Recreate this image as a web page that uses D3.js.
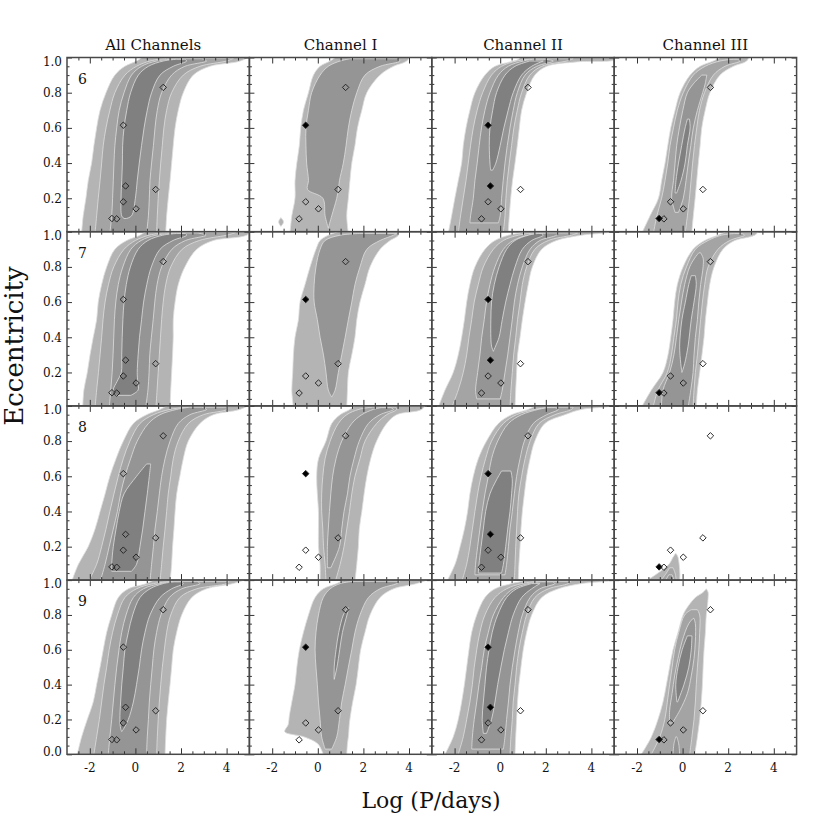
<!DOCTYPE html>
<html><head><meta charset="utf-8">
<script src="https://cdn.jsdelivr.net/npm/d3@7"></script>
<style>body{margin:0;background:#fff}text{font-family:"DejaVu Serif",serif;fill:#111}</style>
</head><body><svg id="c" width="830" height="830"></svg>
<script>
const columns = ["All Channels","Channel I","Channel II","Channel III"];
const rowLabels = ["6","7","8","9"];
const xTickLabels = [-2,0,2,4];
const yTickLabelsTop = [0.2,0.4,0.6,0.8,1.0];
const yTickLabelsBottom = [0.0,0.2,0.4,0.6,0.8,1.0];
const levelColors = ["#b4b4b4","#a4a4a4","#959595","#808080"];

// planets: log period, eccentricity
const planetLogP = [1.22,-0.53,-0.43,-0.53,0.03,0.89,-1.03,-0.82];
const planetEcc  = [0.83,0.615,0.27,0.18,0.14,0.25,0.085,0.083];
// 0 = not shown, 1 = open diamond, 2 = filled diamond
const markAll   = [1,1,1,1,1,1,1,1];
const markChI   = [1,2,0,1,1,1,0,1];
const markChII  = [1,2,2,1,1,1,0,1];
const markChIII = [1,0,0,1,1,1,2,1];

// contour regions: [level, rows of [eccentricity, left logP, right logP]]
const r6_all = [
 [1,[[0.0,-2.36,1.33],[0.1,-2.29,1.37],[0.2,-2.17,1.44],[0.3,-2.07,1.52],[0.4,-1.92,1.59],[0.5,-1.82,1.66],[0.6,-1.7,1.74],[0.7,-1.55,1.88],[0.8,-1.29,2.1],[0.9,-0.9,2.54],[0.95,-0.46,3.27],[0.98,0.05,4.6],[1.02,0.5,5.2]]],
 [2,[[0.0,-1.77,0.93],[0.1,-1.7,0.96],[0.2,-1.63,1.0],[0.3,-1.55,1.05],[0.4,-1.48,1.11],[0.5,-1.41,1.18],[0.6,-1.29,1.25],[0.7,-1.12,1.37],[0.8,-0.9,1.59],[0.9,-0.46,2.1],[0.95,0.05,2.83],[0.98,0.64,4.0],[0.995,1.37,4.3]]],
 [3,[[0.0,-1.12,0.49],[0.1,-1.04,0.57],[0.2,-1.0,0.61],[0.3,-0.97,0.64],[0.4,-0.94,0.71],[0.5,-0.9,0.79],[0.6,-0.82,0.86],[0.7,-0.71,0.96],[0.8,-0.5,1.15],[0.9,-0.17,1.59],[0.95,0.27,2.17],[0.98,0.93,3.12],[0.993,1.9,2.9]]],
 [4,[[0.085,-0.5,-0.4],[0.1,-0.6,-0.17],[0.2,-0.63,0.0],[0.3,-0.6,0.08],[0.4,-0.57,0.17],[0.5,-0.56,0.27],[0.6,-0.5,0.38],[0.7,-0.38,0.52],[0.8,-0.21,0.71],[0.9,0.13,1.08],[0.95,0.57,1.66],[0.98,1.22,2.25],[0.99,1.81,2.17]]]
];
const r6_c1 = [
 [1,[[0.0,-1.22,1.34],[0.1,-1.14,1.27],[0.2,-1.0,1.34],[0.3,-1.0,1.41],[0.4,-0.92,1.49],[0.5,-0.81,1.63],[0.6,-0.75,1.74],[0.7,-0.63,1.93],[0.8,-0.41,2.15],[0.9,-0.19,2.73],[0.95,0.1,3.32],[0.98,0.54,3.9],[1.02,0.98,4.1]]],
 [1,[[0.04,-1.62,-1.62],[0.065,-1.72,-1.5],[0.09,-1.62,-1.62]]],
 [3,[[0.03,0.46,0.46],[0.1,0.32,0.61],[0.2,0.22,0.83],[0.25,-0.45,0.9],[0.3,-0.41,0.95],[0.4,-0.49,1.12],[0.5,-0.52,1.24],[0.6,-0.52,1.34],[0.7,-0.41,1.49],[0.8,-0.27,1.71],[0.9,0.1,2.07],[0.95,0.46,2.73],[0.98,0.98,3.61],[0.993,1.41,3.5]]]
];
const r6_c2 = [
 [1,[[0.0,-2.28,0.35],[0.1,-2.13,0.4],[0.2,-1.99,0.46],[0.3,-1.84,0.54],[0.4,-1.69,0.65],[0.5,-1.62,0.75],[0.6,-1.5,0.84],[0.7,-1.33,0.94],[0.8,-1.11,1.16],[0.9,-0.67,1.52],[0.95,-0.23,2.04],[0.975,0.43,3.35],[0.99,0.8,5.1],[1.02,1.0,5.2]]],
 [2,[[0.0,-1.84,0.13],[0.1,-1.74,0.21],[0.2,-1.62,0.25],[0.3,-1.5,0.31],[0.4,-1.4,0.4],[0.5,-1.3,0.5],[0.6,-1.18,0.6],[0.7,-1.01,0.75],[0.8,-0.77,0.94],[0.9,-0.38,1.3],[0.95,0.06,1.82],[0.98,0.72,2.91],[0.993,1.45,3.2]]],
 [3,[[0.06,-1.33,-0.08],[0.1,-1.3,0.0],[0.2,-1.18,0.06],[0.3,-1.11,0.13],[0.4,-1.01,0.21],[0.5,-0.92,0.31],[0.6,-0.82,0.43],[0.7,-0.67,0.57],[0.8,-0.45,0.75],[0.9,-0.08,1.09],[0.95,0.35,1.6],[0.98,1.01,2.33],[0.99,1.45,2.0]]],
 [4,[[0.36,-0.42,-0.33],[0.4,-0.45,-0.19],[0.5,-0.48,0.0],[0.6,-0.45,0.16],[0.7,-0.33,0.35],[0.8,-0.16,0.57],[0.9,0.21,0.94],[0.95,0.65,1.38],[0.98,1.3,1.89]]]
];
const r6_c3 = [
 [1,[[0.0,-1.79,0.4],[0.1,-1.43,0.47],[0.2,-1.06,0.55],[0.3,-0.92,0.62],[0.4,-0.77,0.69],[0.5,-0.65,0.77],[0.6,-0.52,0.84],[0.7,-0.33,0.99],[0.8,-0.11,1.2],[0.9,0.33,1.64],[0.95,0.77,2.23],[0.98,1.35,2.81],[1.02,1.94,2.96]]],
 [2,[[0.0,-1.28,0.11],[0.1,-1.13,0.21],[0.2,-0.92,0.3],[0.3,-0.77,0.37],[0.4,-0.65,0.44],[0.5,-0.55,0.52],[0.6,-0.4,0.62],[0.7,-0.23,0.74],[0.8,0.03,0.96],[0.9,0.47,1.35],[0.95,0.99,1.86],[0.98,1.64,2.52],[0.99,2.23,2.4]]],
 [3,[[0.12,-0.33,-0.18],[0.2,-0.48,0.03],[0.3,-0.4,0.15],[0.4,-0.33,0.25],[0.5,-0.26,0.36],[0.6,-0.14,0.47],[0.7,0.01,0.65],[0.8,0.21,0.88],[0.85,0.47,0.99],[0.9,0.84,1.06]]],
 [4,[[0.23,-0.33,-0.26],[0.3,-0.29,-0.07],[0.4,-0.18,0.11],[0.5,-0.04,0.21],[0.6,0.11,0.33],[0.65,0.21,0.3]]]
];
const r7_all = [
 [1,[[0.0,-2.31,1.52],[0.1,-2.26,1.55],[0.2,-2.11,1.59],[0.3,-1.99,1.63],[0.4,-1.85,1.66],[0.5,-1.7,1.66],[0.6,-1.63,1.74],[0.7,-1.48,1.88],[0.8,-1.26,2.17],[0.9,-0.9,2.69],[0.95,-0.38,3.42],[0.98,0.2,4.88],[1.02,0.64,5.2]]],
 [2,[[0.0,-1.77,0.9],[0.1,-1.7,0.95],[0.2,-1.62,1.0],[0.3,-1.55,1.05],[0.4,-1.48,1.1],[0.5,-1.42,1.15],[0.6,-1.33,1.22],[0.7,-1.18,1.33],[0.8,-0.95,1.55],[0.9,-0.5,2.05],[0.95,0.0,2.8],[0.98,0.6,4.0],[0.995,1.3,4.4]]],
 [3,[[0.0,-1.15,0.45],[0.1,-1.08,0.55],[0.2,-1.02,0.6],[0.3,-0.98,0.63],[0.4,-0.95,0.7],[0.5,-0.92,0.78],[0.6,-0.86,0.85],[0.7,-0.75,0.95],[0.8,-0.55,1.15],[0.9,-0.2,1.6],[0.95,0.25,2.2],[0.98,0.9,3.1],[0.993,1.9,2.7]]],
 [4,[[0.07,-0.85,-0.2],[0.1,-0.97,0.12],[0.15,-0.8,0.1],[0.2,-0.62,0.08],[0.3,-0.6,0.12],[0.4,-0.58,0.18],[0.5,-0.55,0.27],[0.6,-0.5,0.36],[0.7,-0.4,0.5],[0.8,-0.22,0.7],[0.9,0.12,1.08],[0.95,0.55,1.65],[0.98,1.2,2.25],[0.99,1.8,2.2]]]
];
const r7_c1 = [
 [1,[[0.0,-1.07,1.27],[0.1,-1.14,1.3],[0.2,-1.1,1.34],[0.3,-1.07,1.49],[0.4,-1.0,1.63],[0.5,-0.85,1.71],[0.6,-0.78,1.85],[0.7,-0.56,2.07],[0.8,-0.34,2.29],[0.9,-0.08,2.73],[0.95,0.1,3.17],[0.98,0.46,3.53],[1.02,1.41,3.46]]],
 [3,[[0.06,0.61,0.61],[0.1,0.46,0.76],[0.2,0.36,0.9],[0.3,0.25,1.05],[0.4,0.1,1.2],[0.5,-0.02,1.34],[0.6,-0.16,1.49],[0.7,-0.16,1.63],[0.8,-0.08,1.85],[0.9,0.1,2.15],[0.95,0.32,2.73],[0.98,0.98,3.32],[0.99,1.85,3.46]]]
];
const r7_c2 = [
 [1,[[0.0,-2.72,0.65],[0.1,-2.42,0.68],[0.2,-2.06,0.72],[0.3,-1.84,0.76],[0.4,-1.69,0.87],[0.5,-1.57,0.97],[0.6,-1.47,1.09],[0.7,-1.33,1.23],[0.8,-1.11,1.41],[0.9,-0.67,1.82],[0.95,-0.23,2.47],[0.98,0.36,3.57],[1.0,1.09,4.89],[1.02,1.3,5.2]]],
 [2,[[0.0,-2.13,0.43],[0.1,-1.84,0.47],[0.2,-1.62,0.53],[0.3,-1.47,0.59],[0.4,-1.37,0.68],[0.5,-1.25,0.76],[0.6,-1.14,0.87],[0.7,-0.96,0.97],[0.8,-0.74,1.16],[0.9,-0.3,1.52],[0.95,0.14,2.11],[0.98,0.79,3.13],[0.993,1.52,3.4]]],
 [3,[[0.05,-1.03,0.0],[0.1,-1.08,0.09],[0.2,-0.99,0.21],[0.3,-0.89,0.33],[0.4,-0.81,0.43],[0.5,-0.7,0.53],[0.6,-0.6,0.62],[0.7,-0.45,0.76],[0.8,-0.23,0.97],[0.9,0.14,1.31],[0.95,0.57,1.74],[0.98,1.23,2.47],[0.993,2.11,2.55]]],
 [4,[[0.32,-0.3,-0.3],[0.35,-0.38,-0.2],[0.4,-0.41,-0.05],[0.5,-0.41,0.09],[0.6,-0.38,0.24],[0.7,-0.26,0.43],[0.8,-0.05,0.65],[0.9,0.28,0.97],[0.95,0.65,1.38],[0.98,1.23,1.89],[0.99,1.67,1.8]]]
];
const r7_c3 = [
 [1,[[0.0,-1.81,0.6],[0.1,-1.37,0.65],[0.2,-0.86,0.75],[0.3,-0.64,0.85],[0.4,-0.52,0.94],[0.5,-0.42,1.0],[0.6,-0.35,1.09],[0.7,-0.23,1.19],[0.8,0.02,1.38],[0.9,0.46,1.77],[0.95,0.97,2.29],[0.98,1.55,3.16],[1.02,2.29,3.46]]],
 [2,[[0.0,-1.3,0.46],[0.1,-1.08,0.5],[0.2,-0.67,0.56],[0.3,-0.49,0.65],[0.4,-0.38,0.72],[0.5,-0.27,0.79],[0.6,-0.2,0.87],[0.7,-0.08,0.97],[0.8,0.17,1.12],[0.9,0.56,1.55],[0.95,1.12,2.07],[0.98,1.7,2.72],[0.99,2.29,2.6]]],
 [3,[[0.0,-0.93,0.24],[0.1,-0.86,0.36],[0.2,-0.57,0.46],[0.3,-0.38,0.5],[0.4,-0.27,0.56],[0.5,-0.17,0.65],[0.6,-0.05,0.71],[0.7,0.09,0.79],[0.8,0.31,0.9],[0.85,0.53,0.9],[0.88,0.71,0.79]]],
 [4,[[0.2,-0.03,-0.03],[0.25,-0.08,0.09],[0.35,-0.13,0.24],[0.5,-0.03,0.38],[0.6,0.12,0.5],[0.7,0.27,0.6],[0.75,0.38,0.56]]]
];
const r8_all = [
 [1,[[0.0,-2.8,1.52],[0.1,-2.5,1.59],[0.2,-2.07,1.63],[0.3,-1.77,1.69],[0.4,-1.55,1.74],[0.5,-1.33,1.81],[0.6,-1.12,1.95],[0.7,-0.85,2.1],[0.8,-0.53,2.32],[0.9,-0.09,2.83],[0.95,0.49,3.42],[0.98,1.08,4.59],[1.02,1.66,5.2]]],
 [2,[[0.0,-2.07,1.08],[0.1,-1.7,1.15],[0.2,-1.48,1.22],[0.3,-1.29,1.3],[0.4,-1.12,1.37],[0.5,-0.94,1.44],[0.6,-0.75,1.55],[0.7,-0.53,1.66],[0.8,-0.24,1.88],[0.9,0.2,2.32],[0.95,0.79,2.98],[0.98,1.52,4.0],[0.993,2.25,4.0]]],
 [3,[[0.0,-1.55,0.64],[0.1,-1.33,0.71],[0.2,-1.15,0.79],[0.3,-0.97,0.86],[0.4,-0.79,0.96],[0.5,-0.65,1.05],[0.6,-0.46,1.15],[0.7,-0.21,1.3],[0.8,0.08,1.52],[0.9,0.57,1.88],[0.95,1.08,2.39],[0.98,1.81,3.12],[0.993,2.39,2.9]]],
 [4,[[0.06,-1.04,-0.17],[0.1,-1.04,0.05],[0.2,-0.97,0.2],[0.3,-0.85,0.32],[0.4,-0.71,0.42],[0.5,-0.5,0.52],[0.6,0.05,0.61],[0.67,0.49,0.67]]]
];
const r8_c1 = [
 [1,[[0.0,0.1,1.63],[0.1,0.1,1.71],[0.2,0.03,1.78],[0.3,0.03,1.82],[0.4,0.03,1.93],[0.5,-0.02,2.03],[0.6,-0.05,2.15],[0.7,0.03,2.32],[0.8,0.36,2.58],[0.9,0.61,3.02],[0.95,0.98,3.46],[0.98,1.41,4.56],[1.02,1.8,4.78]]],
 [2,[[0.0,0.36,0.76],[0.1,0.32,0.98],[0.2,0.25,1.15],[0.3,0.22,1.27],[0.4,0.17,1.39],[0.5,0.17,1.49],[0.6,0.22,1.63],[0.7,0.32,1.85],[0.8,0.54,2.07],[0.9,0.9,2.58],[0.95,1.27,3.02],[0.98,1.8,3.46],[0.993,2.4,3.4]]],
 [3,[[0.08,0.42,0.57],[0.2,0.42,0.95],[0.3,0.46,1.05],[0.4,0.51,1.15],[0.5,0.57,1.3],[0.6,0.65,1.41],[0.7,0.8,1.59],[0.8,1.05,1.82],[0.9,1.49,2.22],[0.95,1.93,2.73],[0.98,2.44,3.32],[0.99,2.8,3.2]]]
];
const r8_c2 = [
 [1,[[0.0,-2.35,0.79],[0.1,-1.98,0.82],[0.2,-1.76,0.87],[0.3,-1.57,0.91],[0.4,-1.43,0.97],[0.5,-1.33,1.06],[0.6,-1.18,1.16],[0.7,-0.96,1.31],[0.8,-0.6,1.52],[0.9,-0.08,1.96],[0.95,0.5,2.84],[0.98,1.23,3.57],[1.0,1.52,4.89],[1.02,1.6,5.2]]],
 [2,[[0.0,-1.69,0.62],[0.1,-1.47,0.65],[0.2,-1.33,0.68],[0.3,-1.22,0.72],[0.4,-1.11,0.76],[0.5,-0.99,0.82],[0.6,-0.84,0.94],[0.7,-0.64,1.09],[0.8,-0.38,1.31],[0.9,0.14,1.7],[0.95,0.72,2.4],[0.98,1.52,3.13],[0.993,2.26,3.2]]],
 [3,[[0.04,-1.11,0.21],[0.1,-1.08,0.28],[0.2,-0.99,0.36],[0.3,-0.89,0.43],[0.4,-0.79,0.53],[0.5,-0.67,0.62],[0.6,-0.52,0.72],[0.7,-0.38,0.87],[0.8,-0.11,1.06],[0.9,0.36,1.45],[0.95,0.94,2.04],[0.98,1.67,2.55],[0.99,2.1,2.4]]],
 [4,[[0.05,-0.96,0.06],[0.1,-0.93,0.14],[0.2,-0.84,0.24],[0.3,-0.74,0.33],[0.4,-0.64,0.43],[0.5,-0.45,0.5],[0.58,-0.16,0.53],[0.63,0.06,0.47]]]
];
const r8_c3 = [
 [1,[[0.0,-1.66,-0.13],[0.05,-1.08,-0.12],[0.1,-0.6,-0.15],[0.14,-0.42,-0.2],[0.16,-0.32,-0.28]]],
 [2,[[0.0,-1.0,-0.27],[0.05,-0.71,-0.33],[0.08,-0.57,-0.42]]],
 [3,[[0.0,-0.78,-0.35],[0.04,-0.61,-0.46]]]
];
const r9_all = [
 [1,[[0.0,-2.55,1.3],[0.1,-2.36,1.33],[0.2,-2.11,1.37],[0.3,-1.85,1.44],[0.4,-1.7,1.52],[0.5,-1.55,1.59],[0.6,-1.41,1.66],[0.7,-1.26,1.81],[0.8,-1.04,2.03],[0.9,-0.75,2.47],[0.95,-0.31,3.12],[0.98,0.49,4.29],[1.02,1.08,5.2]]],
 [2,[[0.0,-1.82,0.93],[0.1,-1.7,0.96],[0.2,-1.58,1.0],[0.3,-1.48,1.05],[0.4,-1.38,1.11],[0.5,-1.26,1.18],[0.6,-1.15,1.27],[0.7,-1.0,1.37],[0.8,-0.79,1.55],[0.9,-0.46,1.95],[0.95,0.05,2.69],[0.98,0.79,4.0],[0.993,1.66,4.1]]],
 [3,[[0.0,-1.19,0.49],[0.1,-1.12,0.52],[0.2,-1.04,0.57],[0.3,-0.97,0.61],[0.4,-0.9,0.67],[0.5,-0.82,0.74],[0.6,-0.72,0.81],[0.7,-0.6,0.93],[0.8,-0.41,1.12],[0.9,-0.09,1.49],[0.95,0.35,2.03],[0.98,1.08,2.83],[0.993,1.66,2.7]]],
 [4,[[0.13,-0.6,-0.6],[0.15,-0.65,-0.5],[0.2,-0.68,-0.31],[0.3,-0.65,-0.09],[0.4,-0.6,0.05],[0.5,-0.53,0.17],[0.6,-0.46,0.27],[0.7,-0.31,0.42],[0.8,-0.12,0.64],[0.9,0.2,1.08],[0.95,0.64,1.59],[0.98,1.22,2.1],[0.99,1.7,2.0]]]
];
const r9_c1 = [
 [1,[[0.0,0.24,1.27],[0.06,0.0,1.3],[0.1,-0.6,1.34],[0.13,-1.45,1.36],[0.17,-1.3,1.38],[0.22,-1.25,1.43],[0.3,-1.14,1.53],[0.4,-1.0,1.68],[0.5,-0.92,1.78],[0.6,-0.81,1.88],[0.7,-0.63,2.07],[0.8,-0.41,2.29],[0.9,-0.12,2.73],[0.95,0.24,3.32],[0.98,0.83,4.34],[1.02,1.41,5.2]]],
 [3,[[0.03,0.32,0.61],[0.1,0.17,0.83],[0.2,0.1,0.95],[0.3,0.03,1.05],[0.4,-0.02,1.2],[0.5,-0.08,1.34],[0.6,-0.12,1.49],[0.7,-0.08,1.63],[0.8,0.03,1.85],[0.9,0.24,2.22],[0.95,0.54,2.73],[0.98,0.98,3.46],[0.993,1.56,3.6]]],
 [4,[[0.43,0.72,0.72],[0.5,0.72,0.84],[0.6,0.8,0.96],[0.7,0.92,1.08],[0.8,1.12,1.28],[0.84,1.3,1.36]]]
];
const r9_c2 = [
 [1,[[0.0,-2.42,0.65],[0.1,-2.06,0.68],[0.2,-1.84,0.72],[0.3,-1.69,0.76],[0.4,-1.57,0.82],[0.5,-1.47,0.91],[0.6,-1.37,1.01],[0.7,-1.25,1.16],[0.8,-1.03,1.38],[0.9,-0.67,1.82],[0.95,-0.23,2.55],[0.98,0.5,3.57],[1.0,1.09,4.96],[1.02,1.2,5.2]]],
 [2,[[0.0,-1.84,0.43],[0.1,-1.62,0.47],[0.2,-1.47,0.53],[0.3,-1.33,0.57],[0.4,-1.22,0.65],[0.5,-1.14,0.72],[0.6,-1.03,0.82],[0.7,-0.89,0.97],[0.8,-0.67,1.16],[0.9,-0.23,1.52],[0.95,0.28,2.11],[0.98,0.94,2.99],[0.993,1.67,3.1]]],
 [3,[[0.03,-1.25,0.14],[0.1,-1.22,0.21],[0.2,-1.14,0.28],[0.3,-1.03,0.36],[0.4,-0.93,0.43],[0.5,-0.81,0.53],[0.6,-0.7,0.65],[0.7,-0.52,0.79],[0.8,-0.3,0.97],[0.9,0.14,1.31],[0.95,0.57,1.74],[0.98,1.23,2.4],[0.99,1.82,2.3]]],
 [4,[[0.12,-0.74,-0.6],[0.2,-0.79,-0.38],[0.3,-0.74,-0.23],[0.4,-0.67,-0.11],[0.5,-0.6,0.03],[0.6,-0.49,0.18],[0.7,-0.35,0.36],[0.8,-0.11,0.57],[0.9,0.28,0.94],[0.95,0.72,1.38],[0.98,1.38,1.74]]]
];
const r9_c3 = [
 [1,[[0.0,-1.81,0.53],[0.1,-1.37,0.65],[0.2,-1.08,0.75],[0.3,-0.86,0.82],[0.4,-0.71,0.87],[0.5,-0.57,0.9],[0.6,-0.42,0.94],[0.7,-0.2,1.0],[0.8,0.02,1.04],[0.85,0.24,1.09],[0.9,0.56,1.12],[0.93,0.9,1.12],[0.95,1.04,1.04]]],
 [2,[[0.0,-1.37,0.31],[0.1,-1.0,0.41],[0.2,-0.78,0.5],[0.3,-0.67,0.56],[0.4,-0.57,0.6],[0.5,-0.46,0.65],[0.6,-0.35,0.71],[0.7,-0.17,0.75],[0.8,0.09,0.75],[0.83,0.38,0.65]]],
 [3,[[0.0,-0.42,-0.13],[0.06,-0.38,-0.17],[0.1,-0.3,-0.25]]],
 [3,[[0.18,-0.57,-0.45],[0.25,-0.57,-0.13],[0.35,-0.46,0.21],[0.45,-0.35,0.38],[0.55,-0.2,0.5],[0.65,-0.02,0.56],[0.75,0.27,0.56],[0.78,0.46,0.5]]],
 [4,[[0.3,-0.25,-0.22],[0.4,-0.3,0.06],[0.5,-0.2,0.27],[0.6,-0.02,0.38],[0.68,0.21,0.41]]]
];

const panels = [
  [r6_all, r6_c1, r6_c2, r6_c3],
  [r7_all, r7_c1, r7_c2, r7_c3],
  [r8_all, r8_c1, r8_c2, r8_c3],
  [r9_all, r9_c1, r9_c2, r9_c3]
];
const marks = [markAll, markChI, markChII, markChIII];

const svg = d3.select("#c");
const gridLeft = 67, gridTop = 57.5, colW = 182.4, rowH = 174.2;
const x = d3.scaleLinear().domain([-3,5]).range([0,colW]);
const yFor = r => d3.scaleLinear().domain([r < 3 ? 0.01 : 0, 1]).range([rowH, 0]);
const xMajor = [-2,0,2,4];
const xMinor = d3.range(-2.5,5,0.5).filter(v => !xMajor.includes(v));
const yMajorAll = [0,0.2,0.4,0.6,0.8,1.0];
const yMinorAll = d3.range(0,1.0001,0.05).map(v => +v.toFixed(2)).filter(v => Math.abs(v*5 - Math.round(v*5)) > 1e-6);

const defs = svg.append("defs");
const tickColor = "#333";

panels.forEach((row, r) => row.forEach((polys, c) => {
  const y = yFor(r);
  const g = svg.append("g").attr("transform", `translate(${gridLeft + c*colW},${gridTop + r*rowH})`);
  const id = `clip${r}${c}`;
  defs.append("clipPath").attr("id", id).append("rect").attr("width", colW).attr("height", rowH);
  const area = d3.area()
    .y(d => y(d[0])).x0(d => x(d[1])).x1(d => x(d[2]))
    .curve(d3.curveCatmullRom.alpha(0.5));
  const cg = g.append("g").attr("clip-path", `url(#${id})`);
  polys.slice().sort((a,b) => a[0]-b[0]).forEach(([lev, rows]) => {
    cg.append("path").attr("d", area(rows))
      .attr("fill", levelColors[lev-1])
      .attr("stroke", "#dedede").attr("stroke-width", 0.8);
  });

  planetLogP.forEach((p, i) => {
    const m = marks[c][i];
    if (!m) return;
    g.append("path").attr("d", d3.symbol(d3.symbolSquare, 21)())
      .attr("transform", `translate(${x(p)},${y(planetEcc[i])}) rotate(45)`)
      .attr("fill", m === 2 ? "#000" : "none")
      .attr("stroke", "#222").attr("stroke-width", 0.9);
  });

  const yMaj = yMajorAll.filter(v => v >= y.domain()[0]);
  const yMin = yMinorAll.filter(v => v >= y.domain()[0]);
  const addAxis = (axis, tr) => {
    g.append("g").attr("transform", tr).call(axis)
      .call(a => a.select(".domain").remove())
      .call(a => a.selectAll("text").remove())
      .call(a => a.selectAll("line").attr("stroke", tickColor).attr("stroke-width", 1));
  };
  addAxis(d3.axisBottom(x).tickValues(xMajor).tickSize(-6), `translate(0,${rowH})`);
  addAxis(d3.axisBottom(x).tickValues(xMinor).tickSize(-3), `translate(0,${rowH})`);
  addAxis(d3.axisTop(x).tickValues(xMajor).tickSize(-6), `translate(0,0)`);
  addAxis(d3.axisTop(x).tickValues(xMinor).tickSize(-3), `translate(0,0)`);
  addAxis(d3.axisLeft(y).tickValues(yMaj).tickSize(-5), `translate(0,0)`);
  addAxis(d3.axisLeft(y).tickValues(yMin).tickSize(-2.5), `translate(0,0)`);
  addAxis(d3.axisRight(y).tickValues(yMaj).tickSize(-5), `translate(${colW},0)`);
  addAxis(d3.axisRight(y).tickValues(yMin).tickSize(-2.5), `translate(${colW},0)`);

  g.append("rect").attr("width", colW).attr("height", rowH)
    .attr("fill", "none").attr("stroke", "#484848").attr("stroke-width", 1.5);

  if (c === 0) {
    const labs = r < 3 ? yTickLabelsTop : yTickLabelsBottom;
    labs.forEach(v => {
      const off = v === 1 ? 4 : (v === 0 ? -3 : 0);
      g.append("text").attr("x", -5).attr("y", y(v) + off).attr("dy", "0.36em")
        .attr("text-anchor", "end").attr("font-size", 12).text(v.toFixed(1));
    });
    g.append("text").attr("x", 11).attr("y", 26).attr("font-size", 14).text(rowLabels[r]);
  }
  if (r === 0) {
    g.append("text").attr("x", c === 0 ? colW/2 - 5 : colW/2).attr("y", -8)
      .attr("text-anchor", "middle").attr("font-size", 15).text(columns[c]);
  }
  if (r === 3) {
    xTickLabels.forEach(v => {
      g.append("text").attr("x", x(v)).attr("y", rowH + 13).attr("dy", "0.36em")
        .attr("text-anchor", "middle").attr("font-size", 12).text(v);
    });
  }
}));

svg.append("text").attr("transform", "translate(23,346) rotate(-90)")
  .attr("text-anchor", "middle").attr("font-size", 26).text("Eccentricity");
svg.append("text").attr("x", 431).attr("y", 808)
  .attr("text-anchor", "middle").attr("font-size", 22).text("Log (P/days)");
</script></body></html>
